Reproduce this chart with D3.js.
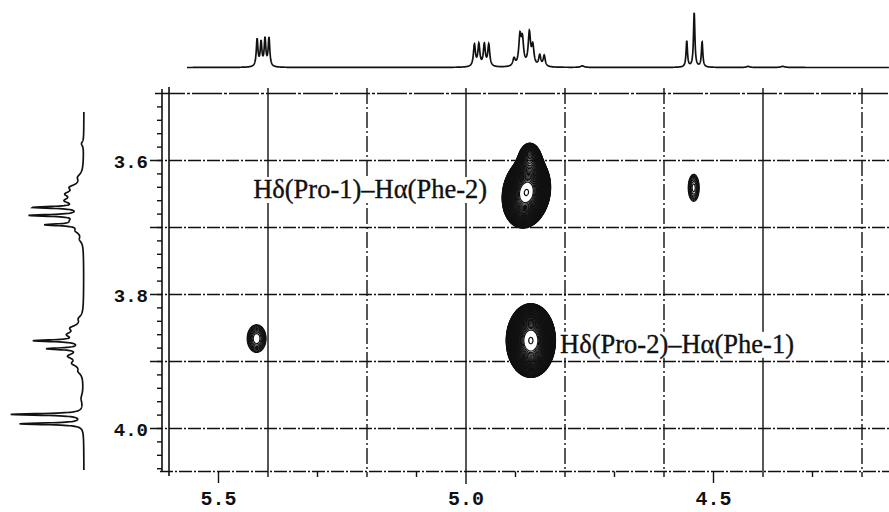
<!DOCTYPE html>
<html>
<head>
<meta charset="utf-8">
<script src="https://cdn.jsdelivr.net/npm/d3@7"></script>
<style>
body{margin:0;background:#fff;}
</style>
</head>
<body>
<script>
const width = 889;
const height = 512;

// 1D projection on top (F2): [shift ppm, height, half width ppm]
const topPeaks = [
  [5.422,0.50,0.0020],[5.414,0.44,0.0020],[5.406,0.50,0.0020],[5.398,0.52,0.0020],
  [4.983,0.40,0.0024],[4.974,0.40,0.0024],[4.963,0.40,0.0024],[4.954,0.40,0.0024],
  [4.903,0.14,0.0028],[4.891,0.52,0.0028],[4.886,0.45,0.0028],[4.872,0.60,0.0028],
  [4.865,0.35,0.0028],[4.851,0.20,0.0025],[4.842,0.20,0.0025],
  [4.765,0.03,0.004],
  [4.554,0.48,0.0017],[4.539,1.00,0.0017],[4.523,0.46,0.0017],
  [4.43,0.02,0.004],[4.36,0.02,0.005]
];

// 1D projection on the left (F1): [shift ppm, height, half width ppm]
const sidePeaks = [
  [3.575,0.03,0.004],
  [3.625,0.06,0.006],[3.640,0.14,0.005],[3.650,0.18,0.005],[3.660,0.20,0.005],
  [3.670,0.62,0.0016],[3.682,0.68,0.0016],[3.696,0.45,0.0016],
  [3.690,0.12,0.005],[3.705,0.08,0.005],[3.718,0.04,0.005],
  [3.836,0.05,0.005],[3.850,0.14,0.005],[3.860,0.18,0.005],
  [3.869,0.62,0.0016],[3.881,0.45,0.0016],
  [3.892,0.18,0.005],[3.903,0.12,0.005],[3.915,0.05,0.005],
  [3.955,0.03,0.008],
  [3.979,0.98,0.0015],[3.993,0.86,0.0015]
];

// cross peaks: [F2 ppm, F1 ppm, sigma F2, sigma F1, amplitude, tilt]
const crossPeaks = [
  [4.879,3.647,0.0175,0.0190,1.000,0.15],
  [4.872,3.600,0.0120,0.0140,0.120,0.00],
  [4.870,3.868,0.0178,0.0197,1.000,0.00],
  [5.424,3.865,0.0212,0.0230,0.030,0.00],
  [4.541,3.640,0.0143,0.0260,0.027,0.00]
];

const crossLabels = [
  {text:"Hδ(Pro-1)–Hα(Phe-2)", f2:5.430, f1:3.656},
  {text:"Hδ(Pro-2)–Hα(Phe-1)", f2:4.810, f1:3.887}
];

const xLabels = [5.5, 5.0, 4.5];
const yLabels = [3.6, 3.8, 4.0];
const xGrid = [5.4, 5.2, 5.0, 4.8, 4.6, 4.4, 4.2];
const xGridSolid = [5.4, 5.0, 4.4];
const yGrid = [3.6, 3.7, 3.8, 3.9, 4.0];

const x = d3.scaleLinear().domain([5.6, 4.2]).range([169, 862]);
const y = d3.scaleLinear().domain([3.5, 4.0]).range([93.5, 428.5]);
const topY = d3.scaleLinear().domain([0, 1]).range([67.5, 13]);
const sideX = d3.scaleLinear().domain([0, 1]).range([84, 10]);

const ink = "#111";

const svg = d3.select("body").append("svg")
  .attr("width", width)
  .attr("height", height);

svg.append("rect").attr("width", width).attr("height", height).attr("fill", "#fff");

function lorentz(peaks, d) {
  let s = 0;
  for (const [c, a, w] of peaks) {
    const t = (d - c) / w;
    s += a / (1 + t * t);
  }
  return s;
}

// ---- top spectrum
const topPts = d3.range(x.invert(187), x.invert(889), -0.0004).map(d => [d, lorentz(topPeaks, d)]);
svg.append("path")
  .attr("d", d3.line().x(d => x(d[0])).y(d => topY(d[1]))(topPts))
  .attr("fill", "none").attr("stroke", ink).attr("stroke-width", 1.7);

// ---- side spectrum
const sidePts = d3.range(y.invert(112), y.invert(470), 0.0003).map(d => [d, lorentz(sidePeaks, d)]);
svg.append("path")
  .attr("d", d3.line().x(d => sideX(d[1])).y(d => y(d[0]))(sidePts))
  .attr("fill", "none").attr("stroke", ink).attr("stroke-width", 1.7);

// ---- frame & grid
const frame = svg.append("g").attr("stroke", ink).attr("fill", "none");
const dashDot = "13,2,2,2";

frame.selectAll(".hgrid").data(yGrid).join("line")
  .attr("x1", 150).attr("x2", width)
  .attr("y1", d => y(d)).attr("y2", d => y(d))
  .attr("stroke-width", 1.4).attr("stroke-dasharray", dashDot);

frame.append("line").attr("x1", 155).attr("x2", width)
  .attr("y1", y(3.5)).attr("y2", y(3.5))
  .attr("stroke-width", 1.6).attr("stroke-dasharray", "30,2,3,2");

frame.append("line").attr("x1", 160).attr("x2", width)
  .attr("y1", y(4.064)).attr("y2", y(4.064))
  .attr("stroke-width", 1.5).attr("stroke-dasharray", dashDot);

frame.selectAll(".vgrid").data(xGrid).join("line")
  .attr("x1", d => x(d)).attr("x2", d => x(d))
  .attr("y1", 88).attr("y2", d => d === 5.0 ? 484 : 477)
  .attr("stroke-width", 1.4)
  .attr("stroke-dasharray", d => xGridSolid.includes(d) ? null : "16,3,2,3");

// double line at the left edge
frame.append("line").attr("x1", 162).attr("x2", 162).attr("y1", 89).attr("y2", y(4.064))
  .attr("stroke-width", 1.6);
frame.append("line").attr("x1", x(5.6)).attr("x2", x(5.6)).attr("y1", 87).attr("y2", 476)
  .attr("stroke-width", 1.6);

// minor ticks on F1
frame.selectAll(".ytick").data(d3.range(3.52, 4.07, 0.02)).join("line")
  .attr("x1", 157).attr("x2", 162)
  .attr("y1", d => y(d)).attr("y2", d => y(d))
  .attr("stroke-width", 1.4);

// ticks on F2
frame.selectAll(".xtick").data(d3.range(5.5, 4.2, -0.2)).join("line")
  .attr("x1", d => x(d)).attr("x2", d => x(d))
  .attr("y1", y(4.064)).attr("y2", d => xLabels.some(v => Math.abs(v - d) < 1e-6) ? 483 : 477)
  .attr("stroke-width", 1.4);

// ---- tick labels
svg.selectAll(".ylab").data(yLabels).join("text")
  .attr("x", 148).attr("y", d => y(d) + 7)
  .attr("text-anchor", "end")
  .attr("font-family", "Liberation Mono, Courier New, monospace")
  .attr("font-weight", "bold").attr("font-size", 19)
  .attr("fill", ink)
  .text(d => d.toFixed(1));

svg.selectAll(".xlab").data(xLabels).join("text")
  .attr("x", d => x(d)).attr("y", 505)
  .attr("text-anchor", "middle")
  .attr("font-family", "Liberation Mono, Courier New, monospace")
  .attr("font-weight", "bold").attr("font-size", 20)
  .attr("fill", ink)
  .text(d => d.toFixed(1));

// ---- cross peak contours
const x0 = 170, y0 = 94;
const nx = 719, ny = 378;
const grid = new Float64Array(nx * ny);
for (const [c2, c1, s2, s1, a, rho] of crossPeaks) {
  const k = 1 / (2 * (1 - rho * rho));
  const iMin = Math.max(0, Math.floor(x(c2 + 5 * s2) - x0)), iMax = Math.min(nx - 1, Math.ceil(x(c2 - 5 * s2) - x0));
  const jMin = Math.max(0, Math.floor(y(c1 - 5 * s1) - y0)), jMax = Math.min(ny - 1, Math.ceil(y(c1 + 5 * s1) - y0));
  for (let j = jMin; j <= jMax; j++) {
    const v = (y.invert(y0 + j) - c1) / s1;
    for (let i = iMin; i <= iMax; i++) {
      const u = (x.invert(x0 + i) - c2) / s2;
      grid[i + j * nx] += a * Math.exp(-k * (u * u - 2 * rho * u * v + v * v));
    }
  }
}
// dense low levels, then geometric steps
const levels = d3.range(10).map(i => 0.02 * Math.pow(1.04, i))
  .concat(d3.range(1, 35).map(i => 0.0285 * Math.pow(1.1, i)))
  .concat([0.97]);
const contours = d3.contours().size([nx, ny]).thresholds(levels)(Array.from(grid));

svg.append("g")
  .attr("transform", `translate(${x0},${y0})`)
  .selectAll("path").data(contours).join("path")
  .attr("d", d3.geoPath())
  .attr("fill", "none")
  .attr("stroke", ink)
  .attr("stroke-width", 1.2);

// ---- annotations
const lab = svg.append("g");
crossLabels.forEach(d => {
  const g = lab.append("g");
  const t = g.append("text")
    .attr("x", x(d.f2)).attr("y", y(d.f1))
    .attr("font-family", "Liberation Serif, Times New Roman, serif")
    .attr("font-size", 26.5)
    .attr("fill", "#111")
    .attr("stroke", "#111").attr("stroke-width", 0.35)
    .text(d.text);
  const b = t.node().getBBox();
  g.insert("rect", "text")
    .attr("x", b.x - 2).attr("y", b.y + 3)
    .attr("width", b.width + 4).attr("height", b.height - 4)
    .attr("fill", "#fff");
});
</script>
</body>
</html>
